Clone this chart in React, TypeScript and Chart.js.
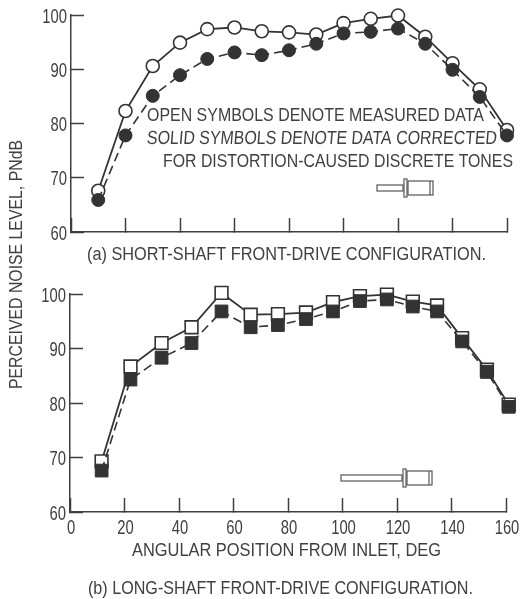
import React, { useEffect, useRef } from "react";
import { Chart, registerables } from "chart.js";

Chart.register(...registerables);

const FONT = '"Liberation Sans", sans-serif';
const INK = "#3f3f3f";
const TEXT = "#404040";
const TICK_SQUEEZE = 0.74;

const anglesA = [10, 20, 30, 40, 50, 60, 70, 80, 90, 100, 110, 120, 130, 140, 150, 160];
const openA = [67.6, 82.3, 90.6, 94.9, 97.4, 97.7, 97, 96.8, 96.4, 98.5, 99.3, 99.9, 96, 91.1, 86.3, 78.8];
const solidA = [65.9, 77.8, 85.1, 88.9, 91.9, 93.1, 92.6, 93.5, 94.7, 96.6, 96.9, 97.5, 94.7, 89.9, 84.9, 77.8];

const anglesB = [11.6, 22.2, 33.6, 44.6, 55.6, 66.3, 76.3, 86.6, 96.5, 106.4, 116.3, 125.8, 134.7, 143.9, 153, 161];
const openB = [69.3, 86.7, 91, 93.9, 100.2, 96.2, 96.3, 96.6, 98.5, 99.6, 99.9, 98.6, 97.9, 91.9, 86.1, 79.7];
const solidB = [67.6, 84.3, 88.3, 91, 96.8, 93.9, 94.3, 95.4, 96.8, 98.7, 99, 97.7, 96.8, 91.3, 85.7, 79.3];

type Label = { text: string; x: number; y: number; width: number; rotate?: boolean; slant?: boolean };

const labelsA: Label[] = [
  { text: "OPEN SYMBOLS DENOTE MEASURED DATA", x: 147, y: 116, width: 337 },
  { text: "SOLID SYMBOLS DENOTE DATA CORRECTED", x: 147, y: 139, width: 350, slant: true },
  { text: "FOR DISTORTION-CAUSED DISCRETE TONES", x: 163, y: 162, width: 350 },
  { text: "(a) SHORT-SHAFT FRONT-DRIVE CONFIGURATION.", x: 87, y: 255, width: 399 },
  { text: "PERCEIVED NOISE LEVEL, PNdB", x: 17, y: 389, width: 249, rotate: true },
];
const labelsB: Label[] = [
  { text: "ANGULAR POSITION FROM INLET, DEG", x: 132, y: 551, width: 309 },
  { text: "(b) LONG-SHAFT FRONT-DRIVE CONFIGURATION.", x: 88, y: 589, width: 385 },
];

type Engine = { shaftStart: number; shaftEnd: number; bodyEnd: number; mid: number };
const engineA: Engine = { shaftStart: 377, shaftEnd: 403, bodyEnd: 433, mid: 188 };
const engineB: Engine = { shaftStart: 341, shaftEnd: 402, bodyEnd: 432, mid: 478 };

function makeChart(
  canvas: HTMLCanvasElement,
  xs: number[],
  open: number[],
  solid: number[],
  shape: string,
  radius: number,
  showX: boolean,
  axisLeft: number,
  pad: { left: number; right: number; top: number; bottom: number },
  labels: Label[],
  engine: Engine
) {
  const overlay = {
    id: "overlay",
    afterDraw(chart: any) {
      const c = chart.ctx;
      c.save();
      c.fillStyle = TEXT;
      c.textBaseline = "middle";
      c.textAlign = "left";
      for (const l of labels) {
        c.save();
        c.font = `19px ${FONT}`;
        c.translate(l.x, l.y);
        if (l.rotate) c.rotate(-Math.PI / 2);
        if (l.slant) c.transform(1, 0, -0.08, 1, 0, 0);
        const w = c.measureText(l.text).width;
        c.scale(l.width / w, 1);
        c.fillText(l.text, 0, 0);
        c.restore();
      }
      // Tick labels come from the library's own scales, squeezed to the reference's narrow lettering.
      c.font = `20px ${FONT}`;
      const yScale = chart.scales.y;
      c.textAlign = "right";
      yScale.ticks.forEach((t: any) => {
        c.save();
        c.translate(chart.chartArea.left - 4, yScale.getPixelForValue(t.value) + 2);
        c.scale(TICK_SQUEEZE, 1);
        c.fillText(String(t.value), 0, 0);
        c.restore();
      });
      if (showX) {
        const xScale = chart.scales.x;
        c.textAlign = "center";
        xScale.ticks.forEach((t: any) => {
          c.save();
          c.translate(xScale.getPixelForValue(t.value) + 1, chart.chartArea.bottom + 16);
          c.scale(TICK_SQUEEZE, 1);
          c.fillText(String(t.value), 0, 0);
          c.restore();
        });
      }
      c.strokeStyle = "#555";
      c.lineWidth = 1.2;
      const { shaftStart: s, shaftEnd: e, bodyEnd: b, mid: m } = engine;
      c.strokeRect(s, m - 3, e - s, 6);
      c.fillStyle = "#fff";
      c.fillRect(e + 5, m - 7, b - e - 5, 14);
      c.strokeRect(e + 5, m - 7, b - e - 5, 14);
      c.strokeRect(e + 1, m - 9, 3, 18);
      c.beginPath();
      c.moveTo(b - 3, m - 7);
      c.lineTo(b - 3, m + 7);
      c.stroke();
      c.restore();
    },
  };

  return new Chart(canvas, {
    type: "line",
    data: {
      labels: xs,
      datasets: [
        {
          label: "Solid symbols: corrected",
          data: xs.map((x, i) => ({ x, y: solid[i] })),
          borderColor: "#333",
          backgroundColor: "#333",
          borderWidth: 1.6,
          borderDash: [9, 5],
          pointStyle: shape,
          pointRadius: radius,
          pointBackgroundColor: "#333",
          pointBorderColor: "#333",
          pointBorderWidth: 1,
          clip: false,
          order: 1,
        },
        {
          label: "Open symbols: measured",
          data: xs.map((x, i) => ({ x, y: open[i] })),
          borderColor: "#333",
          backgroundColor: "#fff",
          borderWidth: 1.8,
          pointStyle: shape,
          pointRadius: radius,
          pointBackgroundColor: "#fff",
          pointBorderColor: "#333",
          pointBorderWidth: 1.6,
          clip: false,
          order: 2,
        },
      ] as any,
    },
    options: {
      responsive: false,
      animation: false,
      layout: { padding: pad },
      plugins: { legend: { display: false }, title: { display: false }, tooltip: { enabled: false } },
      scales: {
        x: {
          type: "linear",
          min: 0,
          max: 160,
          afterFit: (s: any) => {
            s.height = 40;
            s.paddingLeft = 0;
            s.paddingRight = 0;
          },
          border: { color: INK, width: 1.5 },
          grid: { drawOnChartArea: false, tickLength: -14, tickColor: INK, tickWidth: 1.5 },
          ticks: { display: false, stepSize: 20, autoSkip: false },
        },
        y: {
          min: 60,
          max: 100,
          afterFit: (s: any) => {
            s.width = axisLeft;
            s.paddingTop = 0;
            s.paddingBottom = 0;
          },
          border: { color: INK, width: 1.5 },
          grid: { drawOnChartArea: false, tickLength: -13, tickColor: INK, tickWidth: 1.5 },
          ticks: { display: false, stepSize: 10 },
        },
      },
    } as any,
    plugins: [overlay],
  } as any);
}

const layer: React.CSSProperties = { position: "absolute", left: 0, top: 0, filter: "blur(0.45px)" };

export default function App() {
  const a = useRef<HTMLCanvasElement>(null);
  const b = useRef<HTMLCanvasElement>(null);
  useEffect(() => {
    const c1 = makeChart(a.current!, anglesA, openA, solidA, "circle", 6.5, false, 71,
      { left: 0, right: 13, top: 15, bottom: 327 }, labelsA, engineA);
    const c2 = makeChart(b.current!, anglesB, openB, solidB, "rect", 9, true, 70,
      { left: 0, right: 14, top: 294, bottom: 47 }, labelsB, engineB);
    return () => {
      c1.destroy();
      c2.destroy();
    };
  }, []);
  return (
    <div style={{ position: "absolute", left: 0, top: 0, width: 520, height: 599, background: "#fff", overflow: "hidden" }}>
      <canvas ref={a} width={520} height={599} style={layer} />
      <canvas ref={b} width={520} height={599} style={layer} />
    </div>
  );
}
